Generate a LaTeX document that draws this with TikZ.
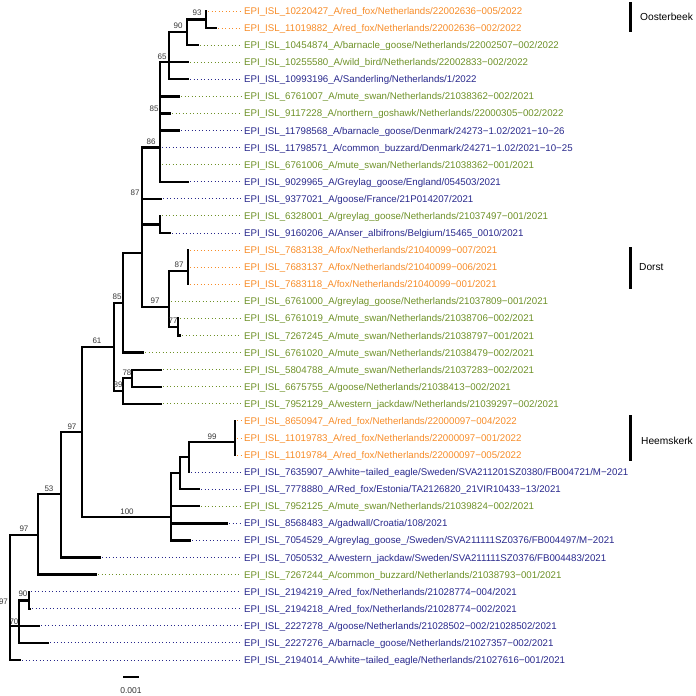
\documentclass[tikz,border=0pt]{standalone}
\usepackage{fontspec}
\setmainfont{Liberation Sans}
\definecolor{cor}{RGB}{247,140,40}
\definecolor{cgr}{RGB}{110,145,40}
\definecolor{cbl}{RGB}{40,40,140}
\definecolor{cbs}{RGB}{55,55,55}
\tikzset{
  br/.style={line width=2.3pt,line cap=rect,black},
  dotln/.style={line width=1pt,dash pattern=on 1pt off 2.5pt},
  lab/.style={anchor=base west,inner xsep=3pt,inner ysep=0pt,font=\fontsize{9.7}{11}\selectfont},
  bs/.style={inner sep=0pt,text=cbs,font=\fontsize{8}{9}\selectfont},
  clab/.style={anchor=west,inner sep=0pt,font=\fontsize{10.2}{12}\selectfont},
  cbar/.style={line width=3pt}
}
\begin{document}
\begin{tikzpicture}[x=1pt,y=-1pt]
\useasboundingbox (0,0) rectangle (696,696);
% tips
\coordinate (t1) at (206,11.00);
\coordinate (t2) at (216,28.08);
\coordinate (t3) at (198,45.16);
\coordinate (t4) at (188,62.24);
\coordinate (t5) at (188,79.32);
\coordinate (t6) at (179,96.40);
\coordinate (t7) at (170,113.48);
\coordinate (t8) at (179,130.56);
\coordinate (t9) at (160,147.64);
\coordinate (t10) at (160,164.72);
\coordinate (t11) at (188,181.80);
\coordinate (t12) at (161,198.88);
\coordinate (t13) at (160,215.96);
\coordinate (t14) at (170,233.04);
\coordinate (t15) at (188,250.12);
\coordinate (t16) at (188,267.20);
\coordinate (t17) at (188,284.28);
\coordinate (t18) at (169,301.36);
\coordinate (t19) at (178,318.44);
\coordinate (t20) at (180,335.52);
\coordinate (t21) at (143,352.60);
\coordinate (t22) at (161,369.68);
\coordinate (t23) at (161,386.76);
\coordinate (t24) at (161,403.84);
\coordinate (t25) at (235,420.92);
\coordinate (t26) at (235,438.00);
\coordinate (t27) at (235,455.08);
\coordinate (t28) at (189,472.16);
\coordinate (t29) at (199,489.24);
\coordinate (t30) at (199,506.32);
\coordinate (t31) at (227,523.40);
\coordinate (t32) at (190,540.48);
\coordinate (t33) at (100,557.56);
\coordinate (t34) at (96,574.64);
\coordinate (t35) at (29,591.72);
\coordinate (t36) at (30,608.80);
\coordinate (t37) at (39,625.88);
\coordinate (t38) at (48,642.96);
\coordinate (t39) at (20,660.04);
% internal nodes
\coordinate (n93) at (206,19.5);
\coordinate (n90) at (187,32);
\coordinate (n65) at (169,62.24);
\coordinate (nA) at (160,147.64);
\coordinate (nC) at (160,224.5);
\coordinate (n87) at (188,271);
\coordinate (n77) at (178,327);
\coordinate (n97a) at (169,307);
\coordinate (nB) at (142,253);
\coordinate (n85b) at (123,303);
\coordinate (n78) at (132,378.2);
\coordinate (n89) at (123,391);
\coordinate (n61) at (114,347);
\coordinate (n99) at (235,442);
\coordinate (nE) at (189,457);
\coordinate (nD) at (180,473);
\coordinate (n100) at (171,517);
\coordinate (n97b) at (82,432);
\coordinate (n53) at (61,494);
\coordinate (n97c) at (38,535);
\coordinate (n90b) at (29,600.5);
\coordinate (n70) at (19,626);
\coordinate (root) at (10,597.5);
% branches
\draw[br] (n93) |- (t1); \draw[br] (n93) |- (t2);
\draw[br] (n90) |- (n93); \draw[br] (n90) |- (t3);
\draw[br] (n65) |- (n90); \draw[br] (n65) |- (t4); \draw[br] (n65) |- (t5);
\draw[br] (nA) |- (n65);
\foreach \c in {t6,t7,t8,t9,t10,t11} {\draw[br] (nA) |- (\c);}
\draw[br] (nC) |- (t13); \draw[br] (nC) |- (t14);
\foreach \c in {t15,t16,t17} {\draw[br] (n87) |- (\c);}
\draw[br] (n77) |- (t19); \draw[br] (n77) |- (t20);
\draw[br] (n97a) |- (n87); \draw[br] (n97a) |- (t18); \draw[br] (n97a) |- (n77);
\draw[br] (nB) |- (nA); \draw[br] (nB) |- (t12); \draw[br] (nB) |- (nC); \draw[br] (nB) |- (n97a);
\draw[br] (n85b) |- (nB); \draw[br] (n85b) |- (t21);
\draw[br] (n78) |- (t22); \draw[br] (n78) |- (t23);
\draw[br] (n89) |- (n78); \draw[br] (n89) |- (t24);
\draw[br] (n61) |- (n85b); \draw[br] (n61) |- (n89);
\foreach \c in {t25,t26,t27} {\draw[br] (n99) |- (\c);}
\draw[br] (nE) |- (n99); \draw[br] (nE) |- (t28);
\draw[br] (nD) |- (nE); \draw[br] (nD) |- (t29);
\draw[br] (n100) |- (nD); \draw[br] (n100) |- (t30); \draw[br] (n100) |- (t31); \draw[br] (n100) |- (t32);
\draw[br] (n97b) |- (n61); \draw[br] (n97b) |- (n100);
\draw[br] (n53) |- (n97b); \draw[br] (n53) |- (t33);
\draw[br] (n97c) |- (n53); \draw[br] (n97c) |- (t34);
\draw[br] (n90b) |- (t35); \draw[br] (n90b) |- (t36);
\draw[br] (n70) |- (n90b); \draw[br] (n70) |- (t37); \draw[br] (n70) |- (t38);
\draw[br] (root) |- (n97c); \draw[br] (root) |- (n70); \draw[br] (root) |- (t39);
% tip labels
\node[lab,text=cor] (l1) at (241,14.5) {EPI\_ISL\_10220427\_A/red\_fox/Netherlands/22002636−005/2022};
\node[lab,text=cor] (l2) at (241,31.58) {EPI\_ISL\_11019882\_A/red\_fox/Netherlands/22002636−002/2022};
\node[lab,text=cgr] (l3) at (241,48.66) {EPI\_ISL\_10454874\_A/barnacle\_goose/Netherlands/22002507−002/2022};
\node[lab,text=cgr] (l4) at (241,65.74) {EPI\_ISL\_10255580\_A/wild\_bird/Netherlands/22002833−002/2022};
\node[lab,text=cbl] (l5) at (241,82.82) {EPI\_ISL\_10993196\_A/Sanderling/Netherlands/1/2022};
\node[lab,text=cgr] (l6) at (241,99.90) {EPI\_ISL\_6761007\_A/mute\_swan/Netherlands/21038362−002/2021};
\node[lab,text=cgr] (l7) at (241,116.98) {EPI\_ISL\_9117228\_A/northern\_goshawk/Netherlands/22000305−002/2022};
\node[lab,text=cbl] (l8) at (241,134.06) {EPI\_ISL\_11798568\_A/barnacle\_goose/Denmark/24273−1.02/2021−10−26};
\node[lab,text=cbl] (l9) at (241,151.14) {EPI\_ISL\_11798571\_A/common\_buzzard/Denmark/24271−1.02/2021−10−25};
\node[lab,text=cgr] (l10) at (241,168.22) {EPI\_ISL\_6761006\_A/mute\_swan/Netherlands/21038362−001/2021};
\node[lab,text=cbl] (l11) at (241,185.30) {EPI\_ISL\_9029965\_A/Greylag\_goose/England/054503/2021};
\node[lab,text=cbl] (l12) at (241,202.38) {EPI\_ISL\_9377021\_A/goose/France/21P014207/2021};
\node[lab,text=cgr] (l13) at (241,219.46) {EPI\_ISL\_6328001\_A/greylag\_goose/Netherlands/21037497−001/2021};
\node[lab,text=cbl] (l14) at (241,236.54) {EPI\_ISL\_9160206\_A/Anser\_albifrons/Belgium/15465\_0010/2021};
\node[lab,text=cor] (l15) at (241,253.62) {EPI\_ISL\_7683138\_A/fox/Netherlands/21040099−007/2021};
\node[lab,text=cor] (l16) at (241,270.70) {EPI\_ISL\_7683137\_A/fox/Netherlands/21040099−006/2021};
\node[lab,text=cor] (l17) at (241,287.78) {EPI\_ISL\_7683118\_A/fox/Netherlands/21040099−001/2021};
\node[lab,text=cgr] (l18) at (241,304.86) {EPI\_ISL\_6761000\_A/greylag\_goose/Netherlands/21037809−001/2021};
\node[lab,text=cgr] (l19) at (241,321.94) {EPI\_ISL\_6761019\_A/mute\_swan/Netherlands/21038706−002/2021};
\node[lab,text=cgr] (l20) at (241,339.02) {EPI\_ISL\_7267245\_A/mute\_swan/Netherlands/21038797−001/2021};
\node[lab,text=cgr] (l21) at (241,356.10) {EPI\_ISL\_6761020\_A/mute\_swan/Netherlands/21038479−002/2021};
\node[lab,text=cgr] (l22) at (241,373.18) {EPI\_ISL\_5804788\_A/mute\_swan/Netherlands/21037283−002/2021};
\node[lab,text=cgr] (l23) at (241,390.26) {EPI\_ISL\_6675755\_A/goose/Netherlands/21038413−002/2021};
\node[lab,text=cgr] (l24) at (241,407.34) {EPI\_ISL\_7952129\_A/western\_jackdaw/Netherlands/21039297−002/2021};
\node[lab,text=cor] (l25) at (241,424.42) {EPI\_ISL\_8650947\_A/red\_fox/Netherlands/22000097−004/2022};
\node[lab,text=cor] (l26) at (241,441.50) {EPI\_ISL\_11019783\_A/red\_fox/Netherlands/22000097−001/2022};
\node[lab,text=cor] (l27) at (241,458.58) {EPI\_ISL\_11019784\_A/red\_fox/Netherlands/22000097−005/2022};
\node[lab,text=cbl] (l28) at (241,475.66) {EPI\_ISL\_7635907\_A/white−tailed\_eagle/Sweden/SVA211201SZ0380/FB004721/M−2021};
\node[lab,text=cbl] (l29) at (241,492.74) {EPI\_ISL\_7778880\_A/Red\_fox/Estonia/TA2126820\_21VIR10433−13/2021};
\node[lab,text=cgr] (l30) at (241,509.82) {EPI\_ISL\_7952125\_A/mute\_swan/Netherlands/21039824−002/2021};
\node[lab,text=cbl] (l31) at (241,526.90) {EPI\_ISL\_8568483\_A/gadwall/Croatia/108/2021};
\node[lab,text=cbl] (l32) at (241,543.98) {EPI\_ISL\_7054529\_A/greylag\_goose\_/Sweden/SVA211111SZ0376/FB004497/M−2021};
\node[lab,text=cbl] (l33) at (241,561.06) {EPI\_ISL\_7050532\_A/western\_jackdaw/Sweden/SVA211111SZ0376/FB004483/2021};
\node[lab,text=cgr] (l34) at (241,578.14) {EPI\_ISL\_7267244\_A/common\_buzzard/Netherlands/21038793−001/2021};
\node[lab,text=cbl] (l35) at (241,595.22) {EPI\_ISL\_2194219\_A/red\_fox/Netherlands/21028774−004/2021};
\node[lab,text=cbl] (l36) at (241,612.30) {EPI\_ISL\_2194218\_A/red\_fox/Netherlands/21028774−002/2021};
\node[lab,text=cbl] (l37) at (241,629.38) {EPI\_ISL\_2227278\_A/goose/Netherlands/21028502−002/21028502/2021};
\node[lab,text=cbl] (l38) at (241,646.46) {EPI\_ISL\_2227276\_A/barnacle\_goose/Netherlands/21027357−002/2021};
\node[lab,text=cbl] (l39) at (241,663.54) {EPI\_ISL\_2194014\_A/white−tailed\_eagle/Netherlands/21027616−001/2021};
% dotted leaders
\foreach \i/\c in {1/cor,2/cor,3/cgr,4/cgr,5/cbl,6/cgr,7/cgr,8/cbl,9/cbl,10/cgr,11/cbl,12/cbl,13/cgr,14/cbl,15/cor,16/cor,17/cor,18/cgr,19/cgr,20/cgr,21/cgr,22/cgr,23/cgr,24/cgr,25/cor,26/cor,27/cor,28/cbl,29/cbl,30/cgr,31/cbl,32/cbl,33/cbl,34/cgr,35/cbl,36/cbl,37/cbl,38/cbl,39/cbl}
  {\draw[dotln,\c] ([xshift=2pt]t\i) -- (t\i -| l\i.west);}
% bootstrap values
\node[bs] (b1) at (197,13) {93};
\node[bs] (b2) at (178,26) {90};
\node[bs] (b3) at (162,57) {65};
\node[bs] (b4) at (154,109) {85};
\node[bs] (b5) at (151,142) {86};
\node[bs] (b6) at (135,193) {87};
\node[bs] (b7) at (179,265) {87};
\node[bs] (b8) at (155,301) {97};
\node[bs] (b9) at (173,321) {77};
\node[bs] (b10) at (117,297) {85};
\node[bs] (b11) at (97,341) {61};
\node[bs] (b12) at (127,373) {78};
\node[bs] (b13) at (118,385) {89};
\node[bs] (b14) at (212,437) {99};
\node[bs] (b15) at (72,427) {97};
\node[bs] (b16) at (127,512) {100};
\node[bs] (b17) at (49,489) {53};
\node[bs] (b18) at (24,529) {97};
\node[bs] (b19) at (3.5,602) {97};
\node[bs] (b20) at (23,594) {90};
\node[bs] (b21) at (14,622) {70};
% clade bars
\coordinate (o1) at (630,2); \coordinate (o2) at (630,32);
\coordinate (d1) at (630,247); \coordinate (d2) at (630,289);
\coordinate (h1) at (630,415); \coordinate (h2) at (630,461);
\draw[cbar] (o1) -- (o2);
\draw[cbar] (d1) -- (d2);
\draw[cbar] (h1) -- (h2);
\node[clab] (cO) at (640,17) {Oosterbeek};
\node[clab] (cD) at (639,267) {Dorst};
\node[clab] (cH) at (641,441) {Heemskerk};
% scale bar
\coordinate (s1) at (123,677); \coordinate (s2) at (139,677);
\draw[line width=1.5pt] (s1) -- (s2);
\node[bs,text=black!80,font=\fontsize{8.5}{10}\selectfont] (sc) at (131,691) {0.001};
\end{tikzpicture}
\end{document}
